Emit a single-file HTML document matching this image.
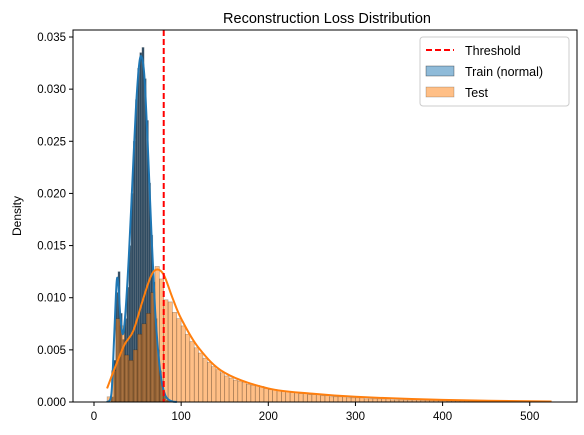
<!DOCTYPE html>
<html><head><meta charset="utf-8"><style>
body{margin:0;background:#fff;}
svg{display:block;font-family:"Liberation Sans","DejaVu Sans",sans-serif;}
</style></head><body>
<svg id="chart" width="584" height="435" viewBox="0 0 584 435">
<rect width="584" height="435" fill="#fff"/>
<text x="327" y="23" text-anchor="middle" font-size="14.5">Reconstruction Loss Distribution</text>
<g id="plot"></g>
</svg>
<script>
const trainBinStart=20, trainBinW=2.5;
const trainDensity=[0.0005,0.004,0.0105,0.0125,0.0085,0.006,0.008,0.011,0.015,0.020,0.025,0.029,0.032,0.0335,0.034,0.031,0.027,0.021,0.016,0.0115,0.008,0.005,0.003,0.0015,0.0006,0.0002,0.0001];
const testBinStart=15, testBinW=5;
const testDensity=[0.0005,0.003,0.008,0.0073,0.0045,0.004,0.005,0.0065,0.0075,0.0085,0.0105,0.013,0.0118,0.0098,0.0096,0.0086,0.008,0.0073,0.0065,0.0058,0.0052,0.0047,0.0042,0.0038,0.0034,0.0031,0.0028,0.0025,0.0023,0.0021,0.0020,0.0019,0.0017,0.0016,0.0016,0.0015,0.0013,0.0012,0.0012,0.0011,0.0010,0.0010,0.0009,0.0009,0.0008,0.0008,0.0007,0.0007,0.0007,0.0006,0.0006,0.0005,0.0005,0.0005,0.0005,0.0004,0.0004,0.0004,0.0004,0.0003,0.0003,0.0003,0.0003,0.0003,0.0003,0.0002,0.0002,0.0002,0.0002,0.0002,0.0002,0.0002,0.00015,0.00015,0.00015,0.00015,0.00012,0.00012,0.0001,0.0001,0.0001,0.0001,0.0001,0.00008,0.00008,0.00008,0.00007,0.00007,0.00006,0.00006,0.00005,0.00005,0.00005,0.00005,0.00004,0.00004,0.00004,0.00004,0.00003,0.00003,0.00003,0.00003];
const trainKdeX=[15,20,23,26,28,30,33,36,40,44,48,52,55,58,62,66,70,74,78,82,86,90,95];
const trainKdeY=[0.0000,0.0008,0.006,0.0115,0.0112,0.0085,0.0065,0.0085,0.014,0.021,0.028,0.0325,0.033,0.031,0.024,0.016,0.009,0.0045,0.0018,0.0006,0.0002,0.00005,0.0];
const testKdeX=[15,25,35,45,55,65,72,80,90,100,120,150,200,250,300,400,525];
const testKdeY=[0.0013,0.0035,0.0055,0.0068,0.0095,0.012,0.0127,0.0122,0.010,0.008,0.0052,0.0028,0.0013,0.0008,0.0005,0.0002,0.00005];
const threshold=80;
const xTicks=[0,100,200,300,400,500];
const yTicks=[0,0.005,0.010,0.015,0.020,0.025,0.030,0.035];

const L=73,R=577,T=30,B=402;
const X=v=>94+v*0.8715;
const Y=v=>B-v*(365/0.035);
const NS="http://www.w3.org/2000/svg";
const g=document.getElementById('plot');
function mk(t,a,p){const e=document.createElementNS(NS,t);for(const k in a)e.setAttribute(k,a[k]);(p||g).appendChild(e);return e;}

const trainG=mk('g',{});


trainDensity.forEach((d,i)=>{const x0=X(trainBinStart+i*trainBinW),x1=X(trainBinStart+(i+1)*trainBinW);
const r=mk('rect',{x:x0,y:Y(d),width:x1-x0,height:B-Y(d),fill:'#2f4b61',stroke:'rgba(120,130,140,0.6)','stroke-width':0.5},trainG);

});
const testG=mk('g',{});


testDensity.forEach((d,i)=>{const x0=X(testBinStart+i*testBinW),x1=X(testBinStart+(i+1)*testBinW);
const r=mk('rect',{x:x0,y:Y(d),width:x1-x0,height:B-Y(d),fill:'rgba(255,127,14,0.5)',stroke:'rgba(0,0,0,0.3)','stroke-width':0.6},testG);

});
function smooth(xs,ys){const p=xs.map((x,i)=>[X(x),Y(ys[i])]);let d='M'+p[0][0]+','+p[0][1];
for(let i=0;i<p.length-1;i++){const p0=p[i-1]||p[i],p1=p[i],p2=p[i+1],p3=p[i+2]||p2;
d+=` C${p1[0]+(p2[0]-p0[0])/6},${p1[1]+(p2[1]-p0[1])/6} ${p2[0]-(p3[0]-p1[0])/6},${p2[1]-(p3[1]-p1[1])/6} ${p2[0]},${p2[1]}`;}return d;}
const k1=mk('path',{d:smooth(trainKdeX,trainKdeY),fill:'none',stroke:'#1f77b4','stroke-width':2});


const k2=mk('path',{d:smooth(testKdeX,testKdeY),fill:'none',stroke:'#ff7f0e','stroke-width':2});


const th=mk('line',{x1:X(threshold),x2:X(threshold),y1:T,y2:B,stroke:'#ff0000','stroke-width':2,'stroke-dasharray':'6,3'});


const fr=mk('rect',{x:L,y:T,width:R-L,height:B-T,fill:'none',stroke:'#000','stroke-width':1});


xTicks.forEach(v=>{mk('line',{x1:X(v),x2:X(v),y1:B,y2:B+4,stroke:'#000'});
const t=mk('text',{x:X(v),y:B+18,'text-anchor':'middle','font-size':11.5});t.textContent=v;

});
yTicks.forEach(v=>{mk('line',{x1:L-4,x2:L,y1:Y(v),y2:Y(v),stroke:'#000'});
const t=mk('text',{x:L-7,y:Y(v)+4,'text-anchor':'end','font-size':11.5});t.textContent=v.toFixed(3);

});
const yt=mk('text',{x:21,y:216,'text-anchor':'middle','font-size':12,transform:'rotate(-90 21 216)'});yt.textContent='Density';


const lg=mk('g',{});


mk('rect',{x:420,y:37,width:149,height:69,rx:3,fill:'#fff',stroke:'#ccc'},lg);
mk('line',{x1:426,x2:454,y1:50,y2:50,stroke:'#ff0000','stroke-width':2,'stroke-dasharray':'6,3'},lg);
mk('rect',{x:426,y:66,width:28,height:10,fill:'rgba(31,119,180,0.5)',stroke:'rgba(0,0,0,0.5)','stroke-width':0.6},lg);
mk('rect',{x:426,y:87,width:28,height:10,fill:'rgba(255,127,14,0.5)',stroke:'rgba(0,0,0,0.3)','stroke-width':0.6},lg);
[['Threshold',55],['Train (normal)',76],['Test',97]].forEach(([s,y])=>{const t=mk('text',{x:465,y:y,'font-size':12.5},lg);t.textContent=s;

});
</script>
</body></html>
